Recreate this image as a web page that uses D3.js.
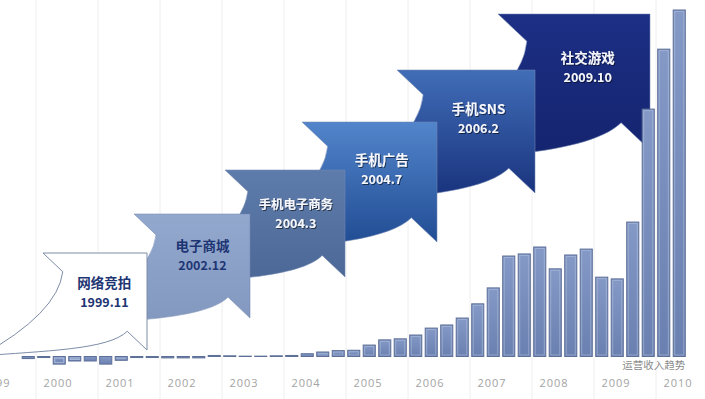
<!DOCTYPE html>
<html>
<head>
<meta charset="utf-8">
<script src="https://cdn.jsdelivr.net/npm/d3@7"></script>
<style>
  html, body { margin: 0; padding: 0; background: #fff; }
  svg { display: block; }
</style>
</head>
<body>
<script>
// quarterly revenue, 1999 Q4 .. 2010 Q2 (max bar = 100)
var quarters = [
  "1999Q4",
  "2000Q1", "2000Q2", "2000Q3", "2000Q4",
  "2001Q1", "2001Q2", "2001Q3", "2001Q4",
  "2002Q1", "2002Q2", "2002Q3", "2002Q4",
  "2003Q1", "2003Q2", "2003Q3", "2003Q4",
  "2004Q1", "2004Q2", "2004Q3", "2004Q4",
  "2005Q1", "2005Q2", "2005Q3", "2005Q4",
  "2006Q1", "2006Q2", "2006Q3", "2006Q4",
  "2007Q1", "2007Q2", "2007Q3", "2007Q4",
  "2008Q1", "2008Q2", "2008Q3", "2008Q4",
  "2009Q1", "2009Q2", "2009Q3", "2009Q4",
  "2010Q1", "2010Q2"
];
var revenue = [
  -0.6,
  -0.3, -2.2, -1.3, -1.3,
  -2.2, -1.1, -0.3, -0.3,
  -0.4, -0.4, -0.4, 0.3,
  0.2, 0.1, 0.1, 0.2,
  0.3, 0.8, 1.3, 1.7,
  1.8, 3.3, 4.8, 5.1,
  6.2, 8.2, 9.1, 11.1,
  15.2, 19.8, 29.0, 29.6,
  31.6, 25.3, 29.3, 31.0,
  22.9, 22.4, 38.8, 71.4,
  88.7, 100
];
var years = [1999, 2000, 2001, 2002, 2003, 2004, 2005, 2006, 2007, 2008, 2009, 2010];
var milestones = ["网络竞拍", "电子商城", "手机电子商务", "手机广告", "手机SNS", "社交游戏"];
var launchDates = ["1999.11", "2002.12", "2004.3", "2004.7", "2006.2", "2009.10"];
var chartNote = "运营收入趋势";

// callout layout (stair steps), kept apart from the data
var calloutLeft  = [43, 134, 225, 302, 397, 498];
var calloutTop   = [253, 214, 170, 122, 70, 14];
var calloutRight = [147, 250, 345, 437, 535, 650];
var calloutTip   = [350, 318, 277, 242, 193, 150];
var calloutColors = [
  ["#ffffff", "#ffffff"],
  ["#93a8cd", "#8398bf"],
  ["#5e7cab", "#4b6796"],
  ["#5285cb", "#1f4a92"],
  ["#416db7", "#18317c"],
  ["#1d2f85", "#14246f"]
];
var darkText = "#1e3574";

var width = 705, height = 399;

var svg = d3.select("body").append("svg")
    .attr("width", width)
    .attr("height", height);

var defs = svg.append("defs");

var xYear = d3.scaleLinear().domain([2000, 2010]).range([36, 656]);
var xBar = d3.scaleBand()
    .domain(quarters)
    .range([xYear(1999.75), xYear(2010.5)])
    .paddingInner(0.22)
    .paddingOuter(0.11);
var y = d3.scaleLinear().domain([0, 100]).range([356.5, 10]);

// faint year grid
svg.append("g").selectAll("line")
    .data(years)
    .enter().append("line")
    .attr("x1", function(d) { return xYear(d); })
    .attr("x2", function(d) { return xYear(d); })
    .attr("y1", 0)
    .attr("y2", height)
    .attr("stroke", "#eeeeee")
    .attr("stroke-width", 1);

// gradients for callouts
calloutColors.forEach(function(c, i) {
  var g = defs.append("linearGradient")
      .attr("id", "cg" + i)
      .attr("x1", 0).attr("y1", 0).attr("x2", 0).attr("y2", 1);
  g.append("stop").attr("offset", "0%").attr("stop-color", c[0]);
  g.append("stop").attr("offset", "100%").attr("stop-color", c[1]);
});

var shadow = defs.append("filter").attr("id", "tshadow")
    .attr("x", "-20%").attr("y", "-40%").attr("width", "140%").attr("height", "180%");
shadow.append("feDropShadow")
    .attr("dx", 1).attr("dy", 1).attr("stdDeviation", 0.7)
    .attr("flood-color", "#000").attr("flood-opacity", 0.55);

function calloutPath(L, T, R, B) {
  var w = R - L, h = B - T;
  var aw = 0.19 * w, ah = 0.18 * w;
  var nx = 0.19 * w, ny = 0.18 * w;
  var sag = Math.max(0, (w - 100) * 0.2);
  var tailX = L - 0.6 * w, tailY = B + 6;
  var p = d3.path();
  p.moveTo(L, T);
  p.lineTo(R, T);
  p.lineTo(R, B);
  p.lineTo(R - aw, B - ah);
  p.bezierCurveTo(R - aw - 0.18 * w, B, L, B + sag, tailX, tailY);
  p.quadraticCurveTo(L + nx - 5, T + 0.62 * h, L + nx, T + ny);
  p.closePath();
  return p.toString();
}

var order = d3.range(milestones.length).reverse();
var callouts = svg.append("g").selectAll("g")
    .data(order)
    .enter().append("g");

callouts.append("path")
    .attr("d", function(i) {
      return calloutPath(calloutLeft[i], calloutTop[i], calloutRight[i], calloutTip[i]);
    })
    .attr("fill", function(i) { return "url(#cg" + i + ")"; })
    .attr("stroke", function(i) { return i === 0 ? "#7d8ca8" : "#7288b2"; })
    .attr("stroke-opacity", function(i) { return i === 0 ? 1 : 0.55; })
    .attr("stroke-width", 1);

function titleSize(i) {
  var w = calloutRight[i] - calloutLeft[i];
  return Math.min(13.5, 0.62 * w / milestones[i].length);
}
function titleY(i) {
  return calloutTop[i] + 0.36 * (calloutTip[i] - calloutTop[i]);
}

callouts.append("text")
    .attr("x", function(i) { return calloutLeft[i] + 0.59 * (calloutRight[i] - calloutLeft[i]); })
    .attr("y", titleY)
    .attr("text-anchor", "middle")
    .attr("font-family", "'Noto Sans CJK SC', 'Noto Sans', sans-serif")
    .attr("font-weight", "bold")
    .attr("font-size", titleSize)
    .attr("fill", function(i) { return i < 2 ? darkText : "#f5f7fc"; })
    .attr("filter", function(i) { return i < 2 ? null : "url(#tshadow)"; })
    .text(function(i) { return milestones[i]; });

callouts.append("text")
    .attr("x", function(i) { return calloutLeft[i] + 0.59 * (calloutRight[i] - calloutLeft[i]); })
    .attr("y", function(i) { return titleY(i) + 19; })
    .attr("text-anchor", "middle")
    .attr("font-family", "'Noto Sans CJK SC', 'Noto Sans', sans-serif")
    .attr("font-weight", "bold")
    .attr("font-size", 12.5)
    .attr("fill", function(i) { return i < 2 ? darkText : "#f5f7fc"; })
    .attr("filter", function(i) { return i < 2 ? null : "url(#tshadow)"; })
    .text(function(i) { return launchDates[i]; });

// bars
var barGrad = defs.append("linearGradient")
    .attr("id", "barGrad")
    .attr("x1", 0).attr("y1", 0).attr("x2", 0).attr("y2", 1);
barGrad.append("stop").attr("offset", "0%").attr("stop-color", "#8499c6");
barGrad.append("stop").attr("offset", "100%").attr("stop-color", "#6a80b0");

var bars = svg.append("g").selectAll("g")
    .data(revenue)
    .enter().append("g");

bars.append("rect")
    .attr("x", function(d, i) { return xBar(quarters[i]); })
    .attr("y", function(d) { return Math.min(y(d), y(0)); })
    .attr("width", xBar.bandwidth())
    .attr("height", function(d) { return Math.abs(y(d) - y(0)); })
    .attr("fill", "url(#barGrad)")
    .attr("stroke", "#5d6f96")
    .attr("stroke-width", 1);

bars.filter(function(d) { return Math.abs(y(d) - y(0)) > 3; })
    .append("rect")
    .attr("x", function(d) { return xBar(quarters[revenue.indexOf(d)]) + 1.5; })
    .attr("y", function(d) { return Math.min(y(d), y(0)) + 1.5; })
    .attr("width", xBar.bandwidth() - 3)
    .attr("height", function(d) { return Math.abs(y(d) - y(0)) - 3; })
    .attr("fill", "none")
    .attr("stroke", "#b4c3e0")
    .attr("stroke-opacity", 0.55)
    .attr("stroke-width", 1);

// year axis
var axis = d3.axisBottom(xYear)
    .tickValues(years)
    .tickSize(0)
    .tickFormat(d3.format("d"));

var ax = svg.append("g")
    .attr("transform", "translate(0,376)")
    .call(axis);
ax.select(".domain").remove();
ax.selectAll("text")
    .attr("dx", xYear(2000.347) - xYear(2000))
    .attr("font-family", "'Open Sans', sans-serif")
    .attr("font-size", 11)
    .attr("letter-spacing", 1)
    .attr("fill", "#a3a3a3");

svg.append("text")
    .attr("x", xBar(quarters[quarters.length - 1]) + xBar.bandwidth())
    .attr("y", 369)
    .attr("text-anchor", "end")
    .attr("font-family", "'Noto Sans CJK SC', sans-serif")
    .attr("font-size", 10.5)
    .attr("fill", "#8a8a8a")
    .text(chartNote);
</script>
</body>
</html>
